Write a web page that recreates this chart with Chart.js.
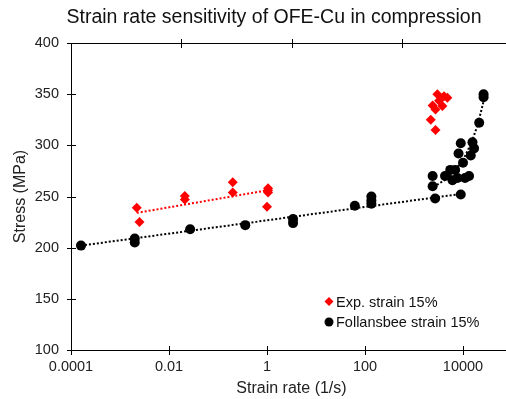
<!DOCTYPE html>
<html>
<head>
<meta charset="utf-8">
<script src="https://cdn.jsdelivr.net/npm/chart.js@4.4.1/dist/chart.umd.min.js"></script>
<style>
html, body { margin: 0; padding: 0; background: #fff; overflow: hidden; }
#wrap { width: 548px; height: 399px; }
</style>
</head>
<body>
<div id="wrap"><canvas id="chartCanvas" width="548" height="399"></canvas></div>
<script>
// 实验数据 (Exp. strain 15%)
const expRate = [0.0022, 0.0025, 0.021, 0.021, 0.2, 0.2, 1.05, 1.05, 1.05, 1.0,
                 3000, 4100, 2400, 3250, 3800, 4800, 2750, 2200, 2750];
const expStress = [239, 225, 250.5, 247, 264, 254, 258, 256, 254, 240,
                   350, 348, 339, 343.5, 338.4, 346.6, 335, 325, 315];

// Follansbee 数据
const follRate = [0.00016, 0.002, 0.002, 0.027, 0.36, 3.4, 3.4, 62, 135, 135, 135,
                  2400, 2400, 2700, 4300, 5500, 6900, 6100, 7700, 9000, 8100, 10000,
                  14400, 11000, 13300, 9000, 15600, 16800, 21400, 26300, 26300];
const follStress = [202, 209, 205, 218, 222, 228, 224, 241, 250, 246, 243,
                    270, 260, 248, 270, 276, 276, 266, 268, 302, 292, 283,
                    290, 268, 270, 252, 303, 297, 322, 350, 347];

// 趋势线 (读图得到)
const expTrendRate = [0.0022, 1.0];
const expTrendStress = [234, 256];
const follTrendRate = [0.00016, 9000];
const follTrendStress = [202, 252.5];
const follHighTrendRate = [2500, 5000, 10000, 15000, 20000, 28000];
const follHighTrendStress = [259.4, 268.1, 285.5, 302.9, 320.3, 348.1];

// 坐标轴刻度
const xTicks = [0.0001, 0.01, 1, 100, 10000];
const xTickLabels = ['0.0001', '0.01', '1', '100', '10000'];
const yTicks = [100, 150, 200, 250, 300, 350, 400];

const toPoints = (xs, ys) => xs.map((v, i) => ({ x: v, y: ys[i] }));

Chart.defaults.font.family = '"Liberation Sans", Arial, sans-serif';
Chart.defaults.color = '#222';

// 边框与交叉刻度线
const axisBox = {
    id: 'axisBox',
    afterDraw(chart) {
        const { ctx, chartArea: a, scales: { x, y } } = chart;
        ctx.save();
        ctx.strokeStyle = '#000';
        ctx.lineWidth = 1;
        ctx.beginPath();
        ctx.moveTo(a.left, Math.round(a.top) + 0.5);
        ctx.lineTo(a.right, Math.round(a.top) + 0.5);
        ctx.moveTo(Math.round(a.right) - 0.5, a.top);
        ctx.lineTo(Math.round(a.right) - 0.5, a.bottom);
        x.ticks.forEach(t => {
            const px = Math.round(x.getPixelForValue(t.value)) + 0.5;
            ctx.moveTo(px, a.bottom - 4);
            ctx.lineTo(px, a.bottom + 5);
        });
        y.ticks.forEach(t => {
            const py = Math.round(y.getPixelForValue(t.value)) + 0.5;
            ctx.moveTo(a.left - 4, py);
            ctx.lineTo(a.left + 5, py);
            ctx.moveTo(a.right - 5, py);
            ctx.lineTo(a.right + 4, py);
        });
        for (let i = 1; i < 4; i++) {
            const px = Math.round(a.left + (a.right - a.left) * i / 4) + 0.5;
            ctx.moveTo(px, a.top - 4);
            ctx.lineTo(px, a.top + 5);
        }
        ctx.stroke();
        ctx.restore();
    }
};

// 图内图例
const legendInside = {
    id: 'legendInside',
    afterDraw(chart) {
        const ctx = chart.ctx;
        const items = chart.data.datasets.filter(d => d.inLegend);
        ctx.save();
        ctx.font = '14.5px "Liberation Sans", Arial, sans-serif';
        ctx.textBaseline = 'middle';
        items.forEach((d, i) => {
            const cx = 329, cy = 301.5 + i * 20.5;
            ctx.fillStyle = d.backgroundColor;
            ctx.beginPath();
            if (d.pointStyle === 'rectRot') {
                ctx.moveTo(cx, cy - 4.5);
                ctx.lineTo(cx + 4.5, cy);
                ctx.lineTo(cx, cy + 4.5);
                ctx.lineTo(cx - 4.5, cy);
                ctx.closePath();
            } else {
                ctx.arc(cx, cy, 4.5, 0, Math.PI * 2);
            }
            ctx.fill();
            ctx.fillStyle = '#111';
            ctx.fillText(d.label, 336, cy + 1);
        });
        ctx.restore();
    }
};

const ctx = document.getElementById('chartCanvas').getContext('2d');
new Chart(ctx, {
    type: 'scatter',
    data: {
        datasets: [{
            label: 'Exp. strain 15%',
            inLegend: true,
            data: toPoints(expRate, expStress),
            pointStyle: 'rectRot',
            pointRadius: 5,
            backgroundColor: '#ff0000',
            borderColor: '#ff0000',
            borderWidth: 0
        }, {
            label: 'Follansbee strain 15%',
            inLegend: true,
            data: toPoints(follRate, follStress),
            pointStyle: 'circle',
            pointRadius: 5,
            backgroundColor: '#000000',
            borderColor: '#000000',
            borderWidth: 0
        }, {
            label: 'exp trend',
            type: 'line',
            data: toPoints(expTrendRate, expTrendStress),
            borderColor: '#ff0000',
            borderWidth: 2,
            borderDash: [2, 2],
            pointRadius: 0,
            fill: false
        }, {
            label: 'foll trend',
            type: 'line',
            data: toPoints(follTrendRate, follTrendStress),
            borderColor: '#000000',
            borderWidth: 2,
            borderDash: [2, 2],
            pointRadius: 0,
            fill: false
        }, {
            label: 'foll high trend',
            type: 'line',
            data: toPoints(follHighTrendRate, follHighTrendStress),
            borderColor: '#000000',
            borderWidth: 2,
            borderDash: [2, 2],
            pointRadius: 0,
            fill: false
        }]
    },
    options: {
        responsive: false,
        animation: false,
        plugins: {
            legend: { display: false },
            tooltip: { enabled: false },
            title: {
                display: true,
                text: 'Strain rate sensitivity of OFE-Cu in compression',
                font: { size: 19.5, weight: 'normal' },
                color: '#111',
                padding: { top: 6, bottom: 13.6 }
            }
        },
        scales: {
            x: {
                type: 'logarithmic',
                min: 0.0001,
                max: 100000,
                afterBuildTicks: scale => {
                    scale.ticks = xTicks.map(v => ({ value: v }));
                },
                afterFit: scale => { scale.height = 49; },
                ticks: {
                    callback: (v) => xTickLabels[xTicks.indexOf(v)] ?? '',
                    font: { size: 14.5 },
                    padding: 8,
                    maxRotation: 0,
                    autoSkip: false
                },
                grid: { display: false, drawTicks: false },
                border: { display: true, color: '#000', width: 1 },
                title: {
                    display: true,
                    text: 'Strain rate (1/s)',
                    font: { size: 16 },
                    padding: { top: 0, bottom: 1 }
                }
            },
            y: {
                min: 100,
                max: 400,
                afterBuildTicks: scale => {
                    scale.ticks = yTicks.map(v => ({ value: v }));
                },
                afterFit: scale => { scale.width = 71; },
                ticks: {
                    font: { size: 14.5 },
                    padding: 12
                },
                grid: { display: false, drawTicks: false },
                border: { display: true, color: '#000', width: 1 },
                title: {
                    display: true,
                    text: 'Stress (MPa)',
                    font: { size: 16 },
                    padding: { top: 11.4, bottom: 0 }
                }
            },
            y2: {
                position: 'right',
                min: 100,
                max: 400,
                afterFit: scale => { scale.width = 36; },
                ticks: { display: false },
                grid: { display: false, drawTicks: false },
                border: { display: false }
            }
        }
    },
    plugins: [axisBox, legendInside]
});
</script>
</body>
</html>
